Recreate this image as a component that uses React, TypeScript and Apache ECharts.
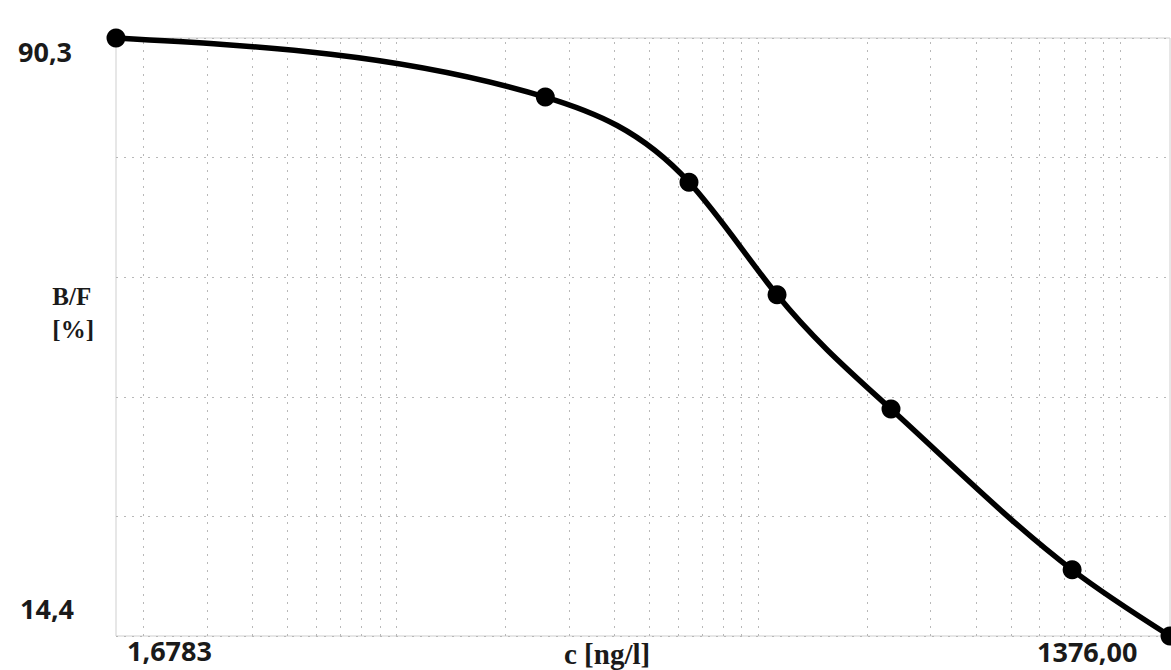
import React, { useEffect, useRef } from "react";
import * as echarts from "echarts";

// Data (x on a log scale, c [ng/l]; y = B/F [%])
const concentrations = [1.6783, 25.8, 64.4, 112.8, 233, 738, 1376];
const bindingPercent = [90.3, 82.8, 72.0, 57.7, 43.2, 22.8, 14.4];

// Axis extents and tick labels
const xMin = 1.6783;
const xMax = 1376;
const yMin = 14.4;
const yMax = 90.3;
const xTickLabels = ["1,6783", "1376,00"];
const yTickLabels = ["90,3", "14,4"];
const xTitle = "c [ng/l]";
const yTitle = "B/F\n[%]";

// Log graph-paper vertical grid lines
const xGridValues = [
  2, 3, 4, 5, 6, 7, 8, 9, 10,
  20, 30, 40, 50, 60, 70, 80, 90, 100,
  200, 300, 400, 500, 600, 700, 800, 900, 1000,
];
const yGridDivisions = 5;

// Smooth curve through the plotted (pixel) points: natural cubic spline as Bezier path
function splinePath(pts: number[][]): string {
  const n = pts.length;
  const xs = pts.map((p) => p[0]);
  const ys = pts.map((p) => p[1]);
  const h: number[] = [];
  const d: number[] = [];
  for (let i = 0; i < n - 1; i++) {
    h.push(xs[i + 1] - xs[i]);
    d.push((ys[i + 1] - ys[i]) / h[i]);
  }
  const M = new Array(n).fill(0);
  if (n > 2) {
    const a: number[] = [], b: number[] = [], c: number[] = [], r: number[] = [];
    for (let i = 1; i < n - 1; i++) {
      a.push(h[i - 1]);
      b.push(2 * (h[i - 1] + h[i]));
      c.push(h[i]);
      r.push(6 * (d[i] - d[i - 1]));
    }
    const m = b.length;
    for (let i = 1; i < m; i++) {
      const w = a[i] / b[i - 1];
      b[i] -= w * c[i - 1];
      r[i] -= w * r[i - 1];
    }
    const sol = new Array(m).fill(0);
    sol[m - 1] = r[m - 1] / b[m - 1];
    for (let i = m - 2; i >= 0; i--) sol[i] = (r[i] - c[i] * sol[i + 1]) / b[i];
    for (let i = 0; i < m; i++) M[i + 1] = sol[i];
  }
  const slope: number[] = [];
  for (let i = 0; i < n - 1; i++) slope.push(d[i] - (h[i] * (2 * M[i] + M[i + 1])) / 6);
  slope.push(d[n - 2] + (h[n - 2] * (M[n - 2] + 2 * M[n - 1])) / 6);
  let path = `M${xs[0]} ${ys[0]}`;
  for (let i = 0; i < n - 1; i++) {
    const k = h[i] / 3;
    path += ` C${xs[i] + k} ${ys[i] + slope[i] * k} ${xs[i + 1] - k} ${ys[i + 1] - slope[i + 1] * k} ${xs[i + 1]} ${ys[i + 1]}`;
  }
  return path;
}

export default function App() {
  const ref = useRef<HTMLDivElement>(null);

  useEffect(() => {
    if (!ref.current) return;
    const chart = echarts.init(ref.current, undefined, { renderer: "svg" });
    const gridColor = "#b8b8b8";
    const points = concentrations.map((c, i) => [c, bindingPercent[i]]);
    const labelFont = {
      fontFamily: "'Open Sans', sans-serif",
      fontWeight: "bold" as const,
      fontSize: 27,
      fill: "#1a1a1a",
    };
    const titleFont = {
      fontFamily: "'Liberation Serif', 'Times New Roman', serif",
      fontWeight: "bold" as const,
      fill: "#1a1a1a",
    };
    chart.setOption({
      animation: false,
      backgroundColor: "#ffffff",
      grid: {
        left: 116,
        right: 1,
        top: 38,
        bottom: 34,
        show: true,
        borderColor: "#cfcfcf",
        borderWidth: 1,
        backgroundColor: "transparent",
      },
      xAxis: {
        type: "log",
        min: xMin,
        max: xMax,
        axisLine: { show: false },
        axisTick: { show: false },
        axisLabel: { show: false },
        splitLine: { show: false },
      },
      yAxis: [
        {
          type: "value",
          min: yMin,
          max: yMax,
          axisLine: { show: false },
          axisTick: { show: false },
          axisLabel: { show: false },
          splitLine: { show: false },
        },
        {
          type: "value",
          min: 0,
          max: yGridDivisions,
          interval: 1,
          axisLine: { show: false },
          axisTick: { show: false },
          axisLabel: { show: false },
          splitLine: {
            show: true,
            lineStyle: { color: gridColor, type: [2, 6], width: 1 },
          },
        },
      ],
      series: [
        {
          type: "custom",
          yAxisIndex: 0,
          data: points,
          encode: { x: 0, y: 1 },
          z: 3,
          silent: true,
          renderItem: (params: any, api: any) => {
            if (params.dataIndex !== 0) return null;
            const px = points.map((p) => api.coord(p));
            return {
              type: "path",
              shape: { pathData: splinePath(px) },
              style: {
                fill: "none",
                stroke: "#000000",
                lineWidth: 5.5,
                lineJoin: "round",
                lineCap: "round",
              },
            };
          },
        },
        {
          type: "scatter",
          yAxisIndex: 0,
          data: points,
          symbol: "circle",
          symbolSize: 19,
          clip: false,
          itemStyle: { color: "#000000", opacity: 1 },
          z: 5,
          markLine: {
            silent: true,
            symbol: "none",
            label: { show: false },
            lineStyle: { color: gridColor, type: [2, 6], width: 1 },
            data: xGridValues.map((v) => ({ xAxis: v })),
            z: 1,
          },
        },
      ],
      graphic: [
        {
          type: "text",
          left: 18,
          top: 38,
          style: { text: yTickLabels[0], ...labelFont },
        },
        {
          type: "text",
          left: 20,
          top: 595,
          style: { text: yTickLabels[1], ...labelFont },
        },
        {
          type: "text",
          left: 127,
          top: 637,
          style: { text: xTickLabels[0], ...labelFont },
        },
        {
          type: "text",
          left: 1037,
          top: 638,
          style: { text: xTickLabels[1], ...labelFont },
        },
        {
          type: "text",
          left: 564,
          top: 639,
          style: { text: xTitle, fontSize: 29, ...titleFont },
        },
        {
          type: "text",
          right: 1171 - 94,
          top: 280,
          style: {
            text: yTitle,
            fontSize: 25,
            lineHeight: 33,
            align: "right",
            ...titleFont,
          },
        },
      ],
    });
    return () => chart.dispose();
  }, []);

  return (
    <div
      ref={ref}
      style={{ position: "fixed", left: 0, top: 0, width: 1171, height: 670 }}
    />
  );
}
